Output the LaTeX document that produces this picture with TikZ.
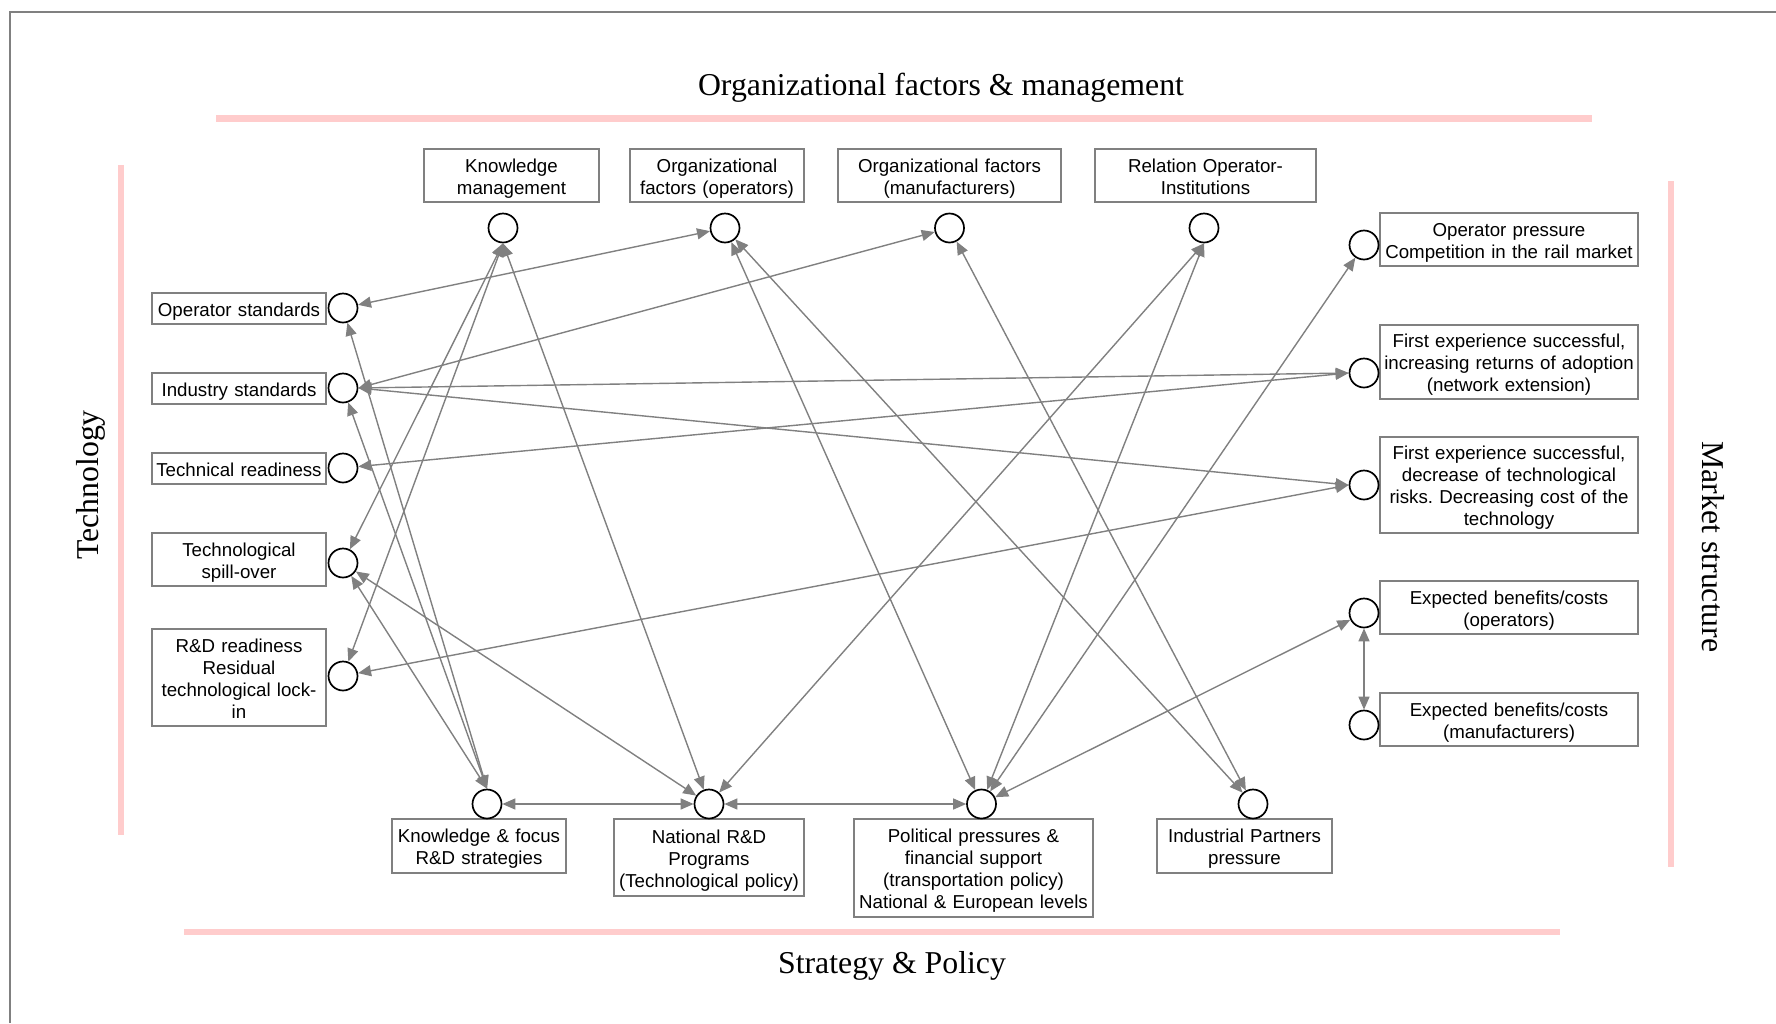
\documentclass[tikz,border=0pt]{standalone}
\usepackage{fontspec}
\setmainfont{Liberation Serif}
\newfontfamily\labelfont{Liberation Sans}
\usetikzlibrary{arrows.meta}
\definecolor{bandpink}{RGB}{255,204,204}
\definecolor{linkgray}{RGB}{128,128,128}
\frenchspacing

\begin{document}
\begin{tikzpicture}[
    x=1pt, y=-1pt,
    factor/.style 2 args={
        draw=linkgray,
        line width=1.5pt,
        minimum width=#1,
        text width=#1,
        minimum height=#2,
        font=\labelfont\fontsize{18.7}{22}\selectfont,
        align=center,
        inner sep=0pt,
        execute at begin node={\rule{0pt}{19pt}},
        execute at end node={\rule[-4pt]{0pt}{4pt}}
    },
    port/.style={
        circle,
        draw=black,
        line width=1.7pt,
        minimum size=29pt,
        inner sep=0pt
    },
    link/.style={
        draw=linkgray,
        line width=1.4pt,
        {Triangle[length=13pt,width=11pt]}-{Triangle[length=13pt,width=11pt]}
    },
    band/.style={draw=bandpink, line width=6.5pt},
    heading/.style={font=\fontsize{31.8}{36}\selectfont}
]

\useasboundingbox (0,0) rectangle (1776,1023);
\draw[linkgray, line width=1.5pt] (10,1023) -- (10,12) -- (1776,12);

\draw[band] (216,118.5) -- (1592,118.5);
\draw[band] (184,932) -- (1560,932);
\draw[band] (121,165) -- (121,835);
\draw[band] (1671,181) -- (1671,867);

\node[heading, anchor=base] (org-t) at (941,95) {Organizational factors \& management};
\node[heading, anchor=base] (strat-t) at (892,973) {Strategy \& Policy};
\node[heading, rotate=90] (tech-t) at (91,485) {Technology};
\node[heading, rotate=-90] (market-t) at (1713,547) {Market structure};

\node[factor={175pt}{53pt}] (km) at (511.5,175.5) {Knowledge\\management};
\node[factor={174pt}{53pt}] (orgop) at (717,175.5) {Organizational\\factors (operators)};
\node[factor={223pt}{53pt}] (orgman) at (949.5,175.5) {Organizational factors\\(manufacturers)};
\node[factor={221pt}{53pt}] (rel) at (1205.5,175.5) {Relation Operator-\\Institutions};

\node[factor={174pt}{31pt}] (opstd) at (239,308.5) {Operator standards};
\node[factor={174pt}{31pt}] (indstd) at (239,388.5) {Industry standards};
\node[factor={174pt}{31pt}] (tech) at (239,468.5) {Technical readiness};
\node[factor={174pt}{53pt}] (spill) at (239,559.5) {Technological\\spill-over};
\node[factor={174pt}{97pt}] (rd) at (239,677.5) {R\&D readiness\\Residual\\technological lock-\\in};

\node[factor={258pt}{53pt}] (press) at (1509,239.5) {Operator pressure\\Competition in the rail market};
\node[factor={258pt}{74pt}] (r2) at (1509,362) {First experience successful,\\increasing returns of adoption\\(network extension)};
\node[factor={258pt}{96pt}] (r3) at (1509,485) {First experience successful,\\decrease of technological\\risks. Decreasing cost of the\\technology};
\node[factor={258pt}{53pt}] (r4) at (1509,607.5) {Expected benefits/costs\\(operators)};
\node[factor={258pt}{53pt}] (r5) at (1509,719.5) {Expected benefits/costs\\(manufacturers)};

\node[factor={174pt}{54pt}] (kf) at (479,846) {Knowledge \& focus\\R\&D strategies};
\node[factor={190pt}{77pt}] (nat) at (709,857.5) {National R\&D\\Programs\\(Technological policy)};
\node[factor={239pt}{98pt}] (pol) at (973.5,868) {Political pressures \&\\financial support\\(transportation policy)\\National \& European levels};
\node[factor={175pt}{54pt}] (ind) at (1244.5,846) {Industrial Partners\\pressure};

\node[port] (km-o) at (503,228) {};
\node[port] (orgop-o) at (725,228) {};
\node[port] (orgman-o) at (949.5,228) {};
\node[port] (rel-o) at (1204,228) {};
\node[port] (opstd-o) at (343,308) {};
\node[port] (indstd-o) at (343,388) {};
\node[port] (tech-o) at (343,468) {};
\node[port] (spill-o) at (343,563) {};
\node[port] (rd-o) at (343,676) {};
\node[port] (press-o) at (1364,245) {};
\node[port] (r2-o) at (1364,373) {};
\node[port] (r3-o) at (1364,485) {};
\node[port] (r4-o) at (1364,613) {};
\node[port] (r5-o) at (1364,725) {};
\node[port] (kf-o) at (487,804) {};
\node[port] (nat-o) at (709,804) {};
\node[port] (pol-o) at (981.5,804) {};
\node[port] (ind-o) at (1253,804) {};

\foreach \a/\b in {
    opstd-o/orgop-o, indstd-o.east/orgman-o, indstd-o.east/r2-o.west,
    indstd-o.east/r3-o.west, tech-o/r2-o.west, rd-o/r3-o.west,
    km-o.south/spill-o, km-o.south/rd-o, km-o.south/nat-o,
    kf-o.north/opstd-o, kf-o.north/indstd-o, kf-o.north/spill-o,
    spill-o/nat-o, orgop-o/pol-o, orgop-o/ind-o, orgman-o/ind-o,
    rel-o.south/nat-o, rel-o.south/pol-o, press-o/pol-o, r4-o/pol-o,
    r4-o/r5-o, kf-o/nat-o, nat-o/pol-o}
    \draw[link] (\a) -- (\b);

\end{tikzpicture}
\end{document}
